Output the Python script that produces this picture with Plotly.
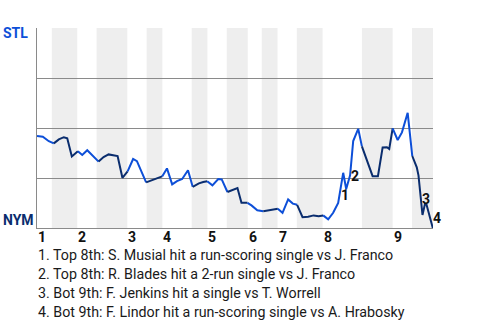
import plotly.graph_objects as go

# ---------------- data ----------------
teams = ["STL", "NYM"]
innings = ["1", "2", "3", "4", "5", "6", "7", "8", "9"]
# game progress (plate-appearance units) where each half inning begins
top_start = [0, 8.04, 18.04, 25.04, 34.04, 42.1, 48.04, 57.04, 71.04]
bot_start = [2.96, 11.9, 21.9, 30.9, 37.9, 44.9, 51.9, 64.9, 74.9]
game_end = 79.1

progress = [0, 1.16, 2.36, 3.36, 4.36, 5.36, 6.04, 6.96, 8.16, 9.04,
            10.04, 12.3, 13.3, 14.3, 15.1, 16.1, 17.06, 18.1, 19.2, 19.96,
            21.8, 23.04, 24.16, 25.0, 25.96, 27.0, 27.96, 29.0, 30.16, 31.1,
            32.34, 33.2, 34.0, 35.04, 36.2, 36.9, 38.04, 39.0, 40.04, 40.84,
            42.04, 42.84, 44.0, 45.2, 46.2, 47.2, 48.1, 49.04, 50.16, 51.1,
            51.96, 53.04, 54.16, 55.26, 56.26, 57.16, 58.16, 59.16, 60.16, 61.16,
            61.76, 62.54, 63.16, 64.16, 64.9, 65.9, 67.04, 68.1, 69.04, 69.9,
            70.36, 71.04, 72.04, 72.9, 74.04, 74.96, 75.86, 76.2, 77.0, 77.5,
            77.8, 79.06]
stl_wp = [0.460, 0.456, 0.434, 0.423, 0.443, 0.454, 0.449, 0.358, 0.384, 0.365,
          0.389, 0.332, 0.355, 0.368, 0.365, 0.360, 0.251, 0.283, 0.345, 0.334,
          0.228, 0.240, 0.253, 0.258, 0.298, 0.218, 0.234, 0.245, 0.289, 0.206,
          0.223, 0.230, 0.234, 0.213, 0.245, 0.243, 0.180, 0.189, 0.200, 0.126,
          0.126, 0.113, 0.089, 0.084, 0.089, 0.095, 0.096, 0.076, 0.143, 0.122,
          0.116, 0.054, 0.056, 0.063, 0.059, 0.063, 0.043, 0.076, 0.125, 0.276,
          0.195, 0.263, 0.435, 0.496, 0.408, 0.333, 0.259, 0.259, 0.403, 0.404,
          0.395, 0.498, 0.440, 0.478, 0.576, 0.360, 0.303, 0.263, 0.065, 0.121,
          0.118, 0.000]

events = [
    "Top 8th: S. Musial hit a run-scoring single vs J. Franco",
    "Top 8th: R. Blades hit a 2-run single vs J. Franco",
    "Bot 9th: F. Jenkins hit a single vs T. Worrell",
    "Bot 9th: F. Lindor hit a run-scoring single vs A. Hrabosky",
]
event_idx = [60, 61, 79, 81]
event_shift = [(-1, -5.5), (5, -1), (1, 5), (4, 10)]

# ---------------- style ----------------
STL_COLOR = "#0d4fd8"
NYM_COLOR = "#0a2d6e"
GRID = "#8a8a8a"
BAND = "#eeeeee"
FONT = "Roboto"


def half_of(x):
    k = 0
    for i, s in enumerate(top_start):
        if s <= x:
            k = i
    return "bot" if x >= bot_start[k] else "top"


fig = go.Figure()

# line split into runs by batting half
runs = []
for i in range(1, len(progress)):
    mid = (progress[i - 1] + progress[i]) / 2
    h = half_of(mid)
    if runs and runs[-1][0] == h:
        runs[-1][2] = i
    else:
        runs.append([h, i - 1, i])
for h, a, b in runs:
    fig.add_trace(go.Scatter(
        x=progress[a:b + 1], y=stl_wp[a:b + 1], mode="lines",
        line=dict(color=STL_COLOR if h == "top" else NYM_COLOR, width=2),
        hoverinfo="skip", showlegend=False))

# bottom-half bands
shapes = []
for k in range(len(innings)):
    x1 = top_start[k + 1] if k + 1 < len(top_start) else game_end
    shapes.append(dict(type="rect", xref="x", yref="paper", x0=bot_start[k], x1=x1,
                       y0=0, y1=1, fillcolor=BAND, line=dict(width=0), layer="below"))

ann = []
# inning labels
for k, lab in enumerate(innings):
    ann.append(dict(x=top_start[k], y=0, xref="x", yref="paper", text="<b>%s</b>" % lab,
                    showarrow=False, xanchor="left", yanchor="middle", yshift=-9, xshift=-1,
                    font=dict(family=FONT, size=14, color="#111")))
# team labels
ann.append(dict(x=0, y=1, xref="paper", yref="y", text="<b>%s</b>" % teams[0],
                showarrow=False, xanchor="left", yanchor="middle", xshift=-36.5, yshift=-5,
                font=dict(family=FONT, size=14, color=STL_COLOR)))
ann.append(dict(x=0, y=0, xref="paper", yref="y", text="<b>%s</b>" % teams[1],
                showarrow=False, xanchor="left", yanchor="middle", xshift=-36.5, yshift=8.5,
                font=dict(family=FONT, size=14, color=NYM_COLOR)))
# event markers
for n, (idx, (dx, dy)) in enumerate(zip(event_idx, event_shift)):
    ann.append(dict(x=progress[idx], y=stl_wp[idx], xref="x", yref="y",
                    text="<b>%d</b>" % (n + 1), showarrow=False,
                    xanchor="center", yanchor="middle", xshift=dx, yshift=dy,
                    font=dict(family=FONT, size=14, color="#111")))
# event descriptions
for n, txt in enumerate(events):
    ann.append(dict(x=0, y=0, xref="paper", yref="paper", text="%d. %s" % (n + 1, txt),
                    showarrow=False, xanchor="left", yanchor="middle",
                    yshift=-26.5 - 19.2 * n, xshift=-1,
                    font=dict(family=FONT, size=14.25, color="#1a1a1a")))

fig.update_layout(
    width=480, height=320,
    margin=dict(l=37, r=47, t=28, b=92),
    paper_bgcolor="white", plot_bgcolor="white",
    xaxis=dict(range=[0, game_end], showgrid=False, zeroline=False,
               showticklabels=False, ticks="", fixedrange=True,
               showline=True, linecolor=GRID, linewidth=1),
    yaxis=dict(range=[0, 1], tickvals=[0, 0.25, 0.5, 0.75, 1], showgrid=True,
               gridcolor=GRID, gridwidth=1, zeroline=False, showticklabels=False,
               ticks="", showline=True, linecolor=GRID, linewidth=1, fixedrange=True),
    shapes=shapes, annotations=ann,
)

fig.write_html("out.html")
